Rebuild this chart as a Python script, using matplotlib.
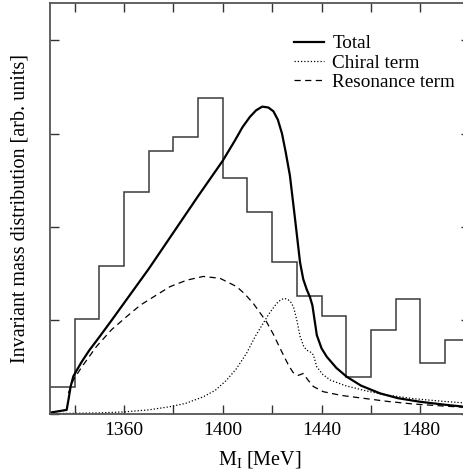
import numpy as np
import matplotlib
matplotlib.use("Agg")
import matplotlib.pyplot as plt

plt.rcParams['font.family'] = ['Liberation Serif', 'DejaVu Serif']
plt.rcParams['mathtext.fontset'] = 'custom'
plt.rcParams['mathtext.rm'] = 'Liberation Serif'
plt.rcParams['mathtext.it'] = 'Liberation Serif:italic'

# ---------------------------------
# data
# ---------------------------------
bin_edges = np.arange(1330, 1501, 10)
hist_vals = [0.285, 1.01, 1.58, 2.375, 2.81, 2.96, 3.385, 2.52, 2.16,
             1.625, 1.257, 1.043, 0.395, 0.90, 1.225, 0.54, 0.79]

total_m = [1330, 1336.8, 1337.6, 1338.4, 1339.5, 1341, 1343, 1346, 1350,
           1355, 1361, 1370, 1380, 1390, 1400, 1405, 1408, 1411, 1413.5,
           1416, 1418.5, 1420.5, 1422.3, 1424, 1425.5, 1427.2, 1429.3,
           1431.3, 1432.6, 1434, 1435.3, 1436.3, 1437.2, 1438.1, 1440,
           1442.1, 1446, 1450.2, 1456, 1463.7, 1471, 1479.9, 1490, 1500]
total_y = [0.01, 0.04, 0.16, 0.29, 0.40, 0.47, 0.56, 0.68, 0.82,
           1.00, 1.22, 1.55, 1.94, 2.33, 2.71, 2.93, 3.07, 3.18, 3.25,
           3.29, 3.28, 3.24, 3.15, 3.00, 2.80, 2.55, 2.08,
           1.62, 1.44, 1.33, 1.25, 1.16, 1.00, 0.84, 0.70,
           0.61, 0.49, 0.395, 0.30, 0.217, 0.165, 0.127, 0.095, 0.068]

chiral_m = [1330, 1340, 1350, 1360, 1370, 1378.6, 1385, 1392.1, 1397, 1401.6,
            1405.5, 1409.7, 1413, 1416.4, 1419, 1421.8, 1423.5, 1425, 1426.5,
            1427.7, 1428.7, 1430, 1431.3, 1432.8, 1434, 1435.5, 1436.7,
            1438.1, 1440.5, 1443.5, 1449.6, 1457, 1465, 1477.2, 1490, 1500]
chiral_y = [0.0, 0.003, 0.008, 0.018, 0.04, 0.074, 0.11, 0.18, 0.25, 0.36,
            0.48, 0.65, 0.82, 0.97, 1.08, 1.18, 1.22, 1.235, 1.22,
            1.19, 1.14, 1.0, 0.83, 0.72, 0.68, 0.66, 0.63,
            0.50, 0.42, 0.36, 0.30, 0.25, 0.205, 0.16, 0.13, 0.11]

reson_m = [1337.5, 1339.5, 1342.9, 1348.9, 1355, 1361.1, 1366.5, 1371.9,
           1378.6, 1385.4, 1392.1, 1398.9, 1405.7, 1409, 1412.4, 1417.8,
           1420.5, 1423.2, 1426.6, 1428.5, 1430.6, 1432.6, 1434.5, 1436.7,
           1440.7, 1448, 1457, 1467, 1477.2, 1490, 1500]
reson_y = [0.22, 0.36, 0.50, 0.72, 0.90, 1.04, 1.16, 1.25,
           1.36, 1.43, 1.47, 1.45, 1.36, 1.28, 1.18, 0.98,
           0.85, 0.70, 0.52, 0.44, 0.41, 0.43, 0.36, 0.29,
           0.235, 0.195, 0.164, 0.13, 0.103, 0.08, 0.065]

# ---------------------------------
# figure
# ---------------------------------
fig = plt.figure(figsize=(4.64, 4.72), dpi=100)
ax = fig.add_axes([0.1075, 0.1237, 0.9048, 0.8699])

ax.stairs(hist_vals, bin_edges, baseline=None, color='#3a3a3a', lw=1.1)
ax.plot(total_m, total_y, color='black', lw=1.6, label='Total')
ax.plot(chiral_m, chiral_y, color='black', lw=0.9, ls=(0, (1, 1.6)),
        label='Chiral term')
ax.plot(reson_m, reson_y, color='black', lw=0.9, ls=(0, (5, 3.5)),
        label='Resonance term')

ax.set_xlim(1330, 1500)
ax.set_ylim(0, 4.4)
ax.set_xticks([1360, 1400, 1440, 1480])
ax.set_xticks([1340, 1380, 1420, 1460, 1500], minor=True)
ax.set_yticks([0, 1, 2, 3, 4])
ax.set_yticklabels([])
ax.tick_params(which='both', direction='in', length=6.3, width=1.0,
               top=True, right=True, labelsize=14, pad=6, color='#333333')
for sp in ax.spines.values():
    sp.set_color('#555555')
    sp.set_linewidth(1.3)

ax.set_xlabel(r'M$_\mathrm{I}$ [MeV]', fontsize=14.5, labelpad=7)
ax.set_ylabel('Invariant mass distribution [arb. units]', fontsize=14.5,
              labelpad=9)

ax.legend(loc='upper left', bbox_to_anchor=(0.5815, 0.922), frameon=False,
          fontsize=13.8, borderpad=0, borderaxespad=0, handlelength=1.55,
          handletextpad=0.45, labelspacing=0.1)

fig.savefig('out.png', dpi=100)
